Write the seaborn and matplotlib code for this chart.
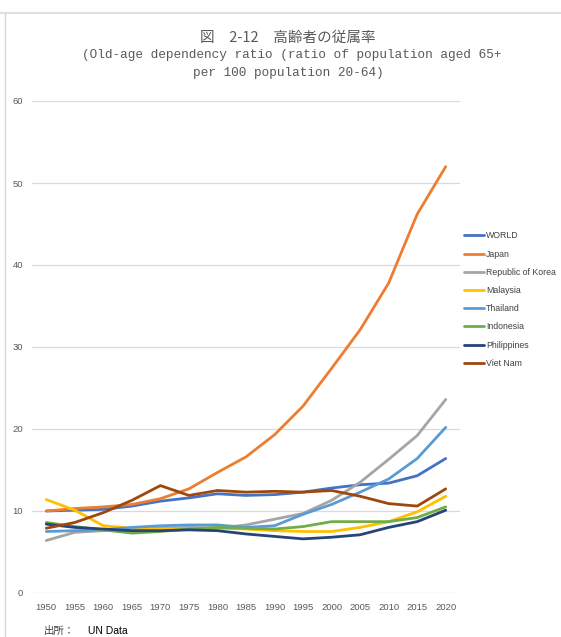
import matplotlib
matplotlib.use("Agg")
import matplotlib.pyplot as plt
import seaborn as sns
import pandas as pd
from matplotlib.lines import Line2D

years = [1950, 1955, 1960, 1965, 1970, 1975, 1980, 1985, 1990, 1995, 2000, 2005, 2010, 2015, 2020]
world = [10.0, 10.1, 10.2, 10.6, 11.2, 11.6, 12.1, 11.9, 12.0, 12.3, 12.8, 13.2, 13.4, 14.3, 16.4]
japan = [10.0, 10.3, 10.5, 10.8, 11.5, 12.7, 14.7, 16.6, 19.3, 22.8, 27.4, 32.1, 37.8, 46.2, 52.0]
korea = [6.4, 7.4, 7.6, 7.8, 7.9, 8.0, 7.9, 8.3, 9.0, 9.7, 11.3, 13.5, 16.3, 19.2, 23.6]
malaysia = [11.4, 10.1, 8.2, 7.9, 7.8, 7.8, 7.9, 7.8, 7.6, 7.5, 7.5, 8.0, 8.7, 9.9, 11.8]
thailand = [7.5, 7.6, 7.7, 8.0, 8.2, 8.3, 8.3, 8.0, 8.2, 9.6, 10.8, 12.3, 13.9, 16.4, 20.2]
indonesia = [8.6, 8.1, 7.7, 7.3, 7.5, 7.8, 8.0, 7.9, 7.8, 8.1, 8.7, 8.7, 8.7, 9.2, 10.5]
philippines = [8.4, 8.0, 7.8, 7.6, 7.6, 7.7, 7.6, 7.2, 6.9, 6.6, 6.8, 7.1, 8.0, 8.7, 10.1]
vietnam = [7.9, 8.6, 9.8, 11.3, 13.1, 11.9, 12.5, 12.3, 12.4, 12.3, 12.5, 11.8, 10.9, 10.6, 12.7]

series_names = ["WORLD", "Japan", "Republic of Korea", "Malaysia", "Thailand",
                "Indonesia", "Philippines", "Viet Nam"]
series_vals = [world, japan, korea, malaysia, thailand, indonesia, philippines, vietnam]
colors = ["#4472C4", "#ED7D31", "#A5A5A5", "#FFC000", "#5B9BD5", "#70AD47", "#264478", "#9E480E"]
yticks = [0, 10, 20, 30, 40, 50, 60]

rows = []
for name, vals in zip(series_names, series_vals):
    for yr, v in zip(years, vals):
        rows.append({"year": yr, "value": v, "country": name})
df = pd.DataFrame(rows)

sns.set_theme(style="white")
plt.rcParams['font.family'] = ['Liberation Sans', 'Noto Sans CJK JP', 'DejaVu Sans']

fig = plt.figure(figsize=(5.61, 6.37), dpi=100)
ax = fig.add_axes([32/561, 1 - 593/637, 428/561, 492/637])

sns.lineplot(data=df, x="year", y="value", hue="country", hue_order=series_names,
             palette=colors, linewidth=2.0, ax=ax, legend=False, zorder=3)

ax.set_xlim(1947.5, 2022.5)
ax.set_ylim(0, 60)
ax.set_xticks(years)
ax.set_xticklabels([str(y) for y in years])
ax.set_yticks(yticks)
ax.set_yticklabels([str(t) for t in yticks])
ax.yaxis.grid(True, color="#D9D9D9", linewidth=0.9)
ax.xaxis.grid(False)
for s in ax.spines.values():
    s.set_visible(False)
ax.tick_params(axis='both', length=0, labelsize=6.8, colors="#595959")
ax.tick_params(axis='y', pad=6.5)
ax.tick_params(axis='x', pad=7)
ax.set_xlabel("")
ax.set_ylabel("")

handles = [Line2D([0], [0], color=c, lw=2.0) for c in colors]
leg = fig.legend(handles, series_names, loc="upper left",
                 bbox_to_anchor=(460/561, 1 - 228/637), frameon=False,
                 fontsize=6.3, handlelength=2.3, handletextpad=0.25,
                 labelspacing=1.05, borderaxespad=0)
for t in leg.get_texts():
    t.set_color("#404040")

title_font = ['Liberation Mono', 'Noto Sans CJK JP']
fig.text(288/561, 1 - 38/637, "図　2-12　高齢者の従属率", ha="center", va="center",
         fontsize=10.5, color="#595959", family=['Noto Sans CJK JP'])
fig.text(292/561, 1 - 55/637, "(Old-age dependency ratio (ratio of population aged 65+",
         ha="center", va="center", fontsize=9.2, color="#595959", family=title_font)
fig.text(288/561, 1 - 73/637, "per 100 population 20-64)", ha="center", va="center",
         fontsize=9.2, color="#595959", family=title_font)

fig.text(44/561, 1 - 631/637, "出所：", ha="left", va="center", fontsize=7.5,
         color="#404040", family=['Noto Sans CJK JP'])
fig.text(88/561, 1 - 631/637, "UN Data", ha="left", va="center", fontsize=7.5,
         color="#000000", family=['Liberation Sans'])

fig.add_artist(Line2D([0, 1], [1 - 13/637, 1 - 13/637], color="#E0E0E0", lw=1.5,
                      transform=fig.transFigure))
fig.add_artist(Line2D([5/561, 5/561], [0, 1 - 13/637], color="#D9D9D9", lw=1.0,
                      transform=fig.transFigure))

fig.savefig("out.png", dpi=100)
